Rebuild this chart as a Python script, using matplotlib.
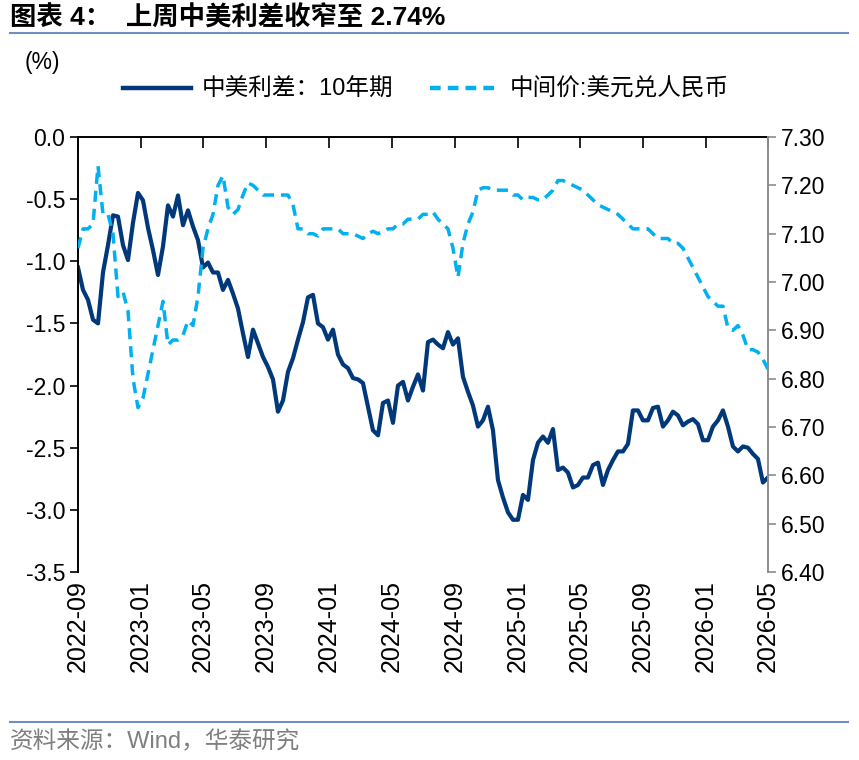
import numpy as np
import pandas as pd
import matplotlib
matplotlib.use('Agg')
import matplotlib.pyplot as plt
import matplotlib.dates as mdates
from matplotlib.lines import Line2D

plt.rcParams['font.family'] = ['Liberation Sans', 'Noto Sans CJK SC', 'DejaVu Sans']

# 中美利差 10年期 (%), roughly every 10 days
spread = [-1.05, -1.23, -1.31, -1.47, -1.50, -1.09, -0.87, -0.63, -0.64, -0.87,
          -0.99, -0.69, -0.45, -0.51, -0.73, -0.91, -1.11, -0.88, -0.55, -0.64,
          -0.47, -0.71, -0.59, -0.72, -0.83, -1.05, -1.01, -1.09, -1.09, -1.23,
          -1.15, -1.26, -1.38, -1.58, -1.77, -1.55, -1.66, -1.77, -1.85, -1.95,
          -2.21, -2.12, -1.89, -1.78, -1.63, -1.49, -1.29, -1.27, -1.50, -1.53,
          -1.63, -1.55, -1.75, -1.83, -1.86, -1.94, -1.95, -1.98, -2.17, -2.36,
          -2.40, -2.14, -2.12, -2.30, -2.00, -1.97, -2.12, -2.01, -1.91, -2.04,
          -1.65, -1.63, -1.67, -1.70, -1.57, -1.67, -1.62, -1.93, -2.05, -2.16,
          -2.33, -2.28, -2.17, -2.36, -2.76, -2.90, -3.02, -3.08, -3.08, -2.88,
          -2.92, -2.60, -2.46, -2.41, -2.46, -2.35, -2.68, -2.66, -2.70, -2.82,
          -2.80, -2.74, -2.74, -2.64, -2.62, -2.80, -2.68, -2.60, -2.53, -2.53,
          -2.47, -2.20, -2.20, -2.28, -2.28, -2.18, -2.17, -2.33, -2.28, -2.21,
          -2.24, -2.32, -2.29, -2.27, -2.31, -2.44, -2.44, -2.33, -2.28, -2.20,
          -2.33, -2.49, -2.53, -2.49, -2.50, -2.55, -2.59, -2.78, -2.74]

# 中间价: 美元兑人民币
usdcny = [7.07, 7.11, 7.11, 7.12, 7.24, 7.14, 7.14, 7.10, 6.97, 6.98,
          6.94, 6.80, 6.74, 6.76, 6.81, 6.86, 6.91, 6.96, 6.87, 6.88,
          6.88, 6.89, 6.92, 6.91, 6.97, 7.07, 7.11, 7.14, 7.20, 7.22,
          7.155, 7.14, 7.15, 7.18, 7.205, 7.20, 7.19, 7.18, 7.18, 7.18,
          7.18, 7.18, 7.18, 7.16, 7.11, 7.11, 7.10, 7.10, 7.095, 7.11,
          7.11, 7.11, 7.11, 7.10, 7.10, 7.10, 7.095, 7.09, 7.10, 7.105,
          7.10, 7.105, 7.11, 7.11, 7.12, 7.12, 7.13, 7.13, 7.13, 7.14,
          7.14, 7.145, 7.13, 7.12, 7.11, 7.07, 7.01, 7.08, 7.12, 7.145,
          7.19, 7.195, 7.195, 7.19, 7.19, 7.19, 7.19, 7.18, 7.18, 7.17,
          7.175, 7.175, 7.17, 7.17, 7.18, 7.19, 7.21, 7.21, 7.205, 7.20,
          7.195, 7.19, 7.18, 7.17, 7.16, 7.155, 7.15, 7.145, 7.14, 7.13,
          7.12, 7.11, 7.11, 7.11, 7.11, 7.10, 7.09, 7.09, 7.09, 7.08,
          7.08, 7.07, 7.05, 7.03, 7.01, 6.99, 6.97, 6.96, 6.95, 6.95,
          6.905, 6.90, 6.91, 6.89, 6.86, 6.86, 6.855, 6.84, 6.82]

start, end = '2022-09-01', '2026-05-01'
d1 = pd.date_range(start, end, periods=len(spread))
d2 = pd.date_range(start, end, periods=len(usdcny))

dark = '#00387A'
light = '#00B0F0'
grey = '#8C8C8C'
fs = 16.5

fig = plt.figure(figsize=(8.59, 7.60), dpi=100)
ax = fig.add_axes([0.0908, 0.2474, 0.8032, 0.5723])
ax2 = ax.twinx()

ax.plot(d1, spread, color=dark, lw=3.0, label='中美利差：10年期')
ax2.plot(d2, usdcny, color=light, lw=2.5, dashes=(3.2, 2.0), label='中间价:美元兑人民币')

ax.set_xlim(pd.Timestamp(start), pd.Timestamp(end))
ax.set_ylim(-3.5, 0)
ax.set_yticks(np.arange(-3.5, 0.01, 0.5))
ax.yaxis.set_major_formatter(matplotlib.ticker.FormatStrFormatter('%.1f'))
ax2.set_ylim(6.40, 7.30)
ax2.set_yticks(np.arange(6.40, 7.301, 0.10))
ax2.yaxis.set_major_formatter(matplotlib.ticker.FormatStrFormatter('%.2f'))

ax.xaxis.set_major_locator(mdates.MonthLocator(bymonth=[1, 5, 9]))
ax.xaxis.set_major_formatter(mdates.DateFormatter('%Y-%m'))
ax.tick_params(axis='x', top=True, bottom=False, labeltop=False, labelbottom=True,
               direction='in', length=8, width=1.2, labelrotation=90, labelsize=18, pad=6)
ax.tick_params(axis='y', direction='out', length=6, width=1.2, labelsize=fs, pad=3)
ax2.tick_params(axis='y', direction='out', length=6, width=1.2, colors=grey,
                labelcolor='black', labelsize=fs, pad=3)

for s in ['bottom', 'right']:
    ax.spines[s].set_visible(False)
for s in ['bottom', 'top', 'left']:
    ax2.spines[s].set_visible(False)
ax.spines['left'].set_linewidth(1.4)
ax.spines['top'].set_linewidth(1.4)
ax2.spines['right'].set_color(grey)
ax2.spines['right'].set_linewidth(1.4)

# legend
h1 = Line2D([], [], color=dark, lw=3.2)
h2 = Line2D([], [], color=light, lw=3.2, dashes=(2.4, 1.6))
fig.legend([h1, h2], ['中美利差：10年期', '中间价:美元兑人民币'], ncol=2,
           loc='center left', bbox_to_anchor=(0.143, 0.882), frameon=False,
           fontsize=17, handlelength=2.9, handletextpad=0.45, columnspacing=1.55,
           borderpad=0, borderaxespad=0)

fig.text(0.029, 0.918, '(%)', fontsize=16.5, va='center', ha='left')

# title, source and rules
fig.text(0.012, 0.976, '图表 4：  上周中美利差收窄至 2.74%', fontsize=19,
         fontweight='bold', va='center', ha='left')
fig.add_artist(Line2D([0.012, 0.987], [0.9566, 0.9566], color='#6F8FC0', lw=1.5,
                      transform=fig.transFigure))
fig.add_artist(Line2D([0.012, 0.987], [0.05, 0.05], color='#6F8FC0', lw=1.5,
                      transform=fig.transFigure))
fig.text(0.012, 0.0237, '资料来源：Wind，华泰研究', fontsize=17, color='#7F7F7F',
         va='center', ha='left')

fig.savefig('out.png', dpi=100)
